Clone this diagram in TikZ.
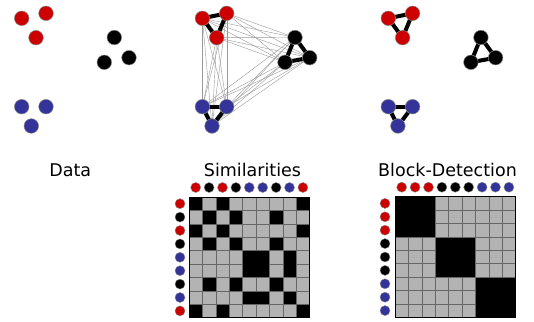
\documentclass[tikz,border=0pt]{standalone}
\usepackage{fontspec}
\setmainfont{DejaVu Sans}
\usepackage{xcolor}
\usepackage{tikz}
\usetikzlibrary{positioning, backgrounds}

\definecolor{c1}{HTML}{CC0000}
\definecolor{c2}{HTML}{000000}
\definecolor{c3}{HTML}{333399}
\definecolor{cellgray}{HTML}{B3B3B3}

\begin{document}
\begin{tikzpicture}[
        x=1pt, y=-1pt,
        dot/.style={circle, draw=black!45, line width=0.5pt, inner sep=0pt, minimum size=14.6pt},
        mdot/.style={circle, draw=black!45, line width=0.4pt, inner sep=0pt, minimum size=10pt},
        strong/.style={line width=4pt},
        weak/.style={line width=0.4pt, black!40},
        cell/.style={draw=black!60, line width=0.5pt},
        title/.style={anchor=base, font=\fontsize{17.5}{20}\selectfont}
    ]
    \useasboundingbox (0,0) rectangle (534,321);

    % Points, once per panel
    \foreach \pn/\dx in {d/0, s/180.7, b/366.6} {
        \node[dot, fill=c1] (\pn-r1) at (21.7+\dx,18.3) {};
        \node[dot, fill=c1] (\pn-r2) at (46+\dx,13.3) {};
        \node[dot, fill=c1] (\pn-r3) at (36+\dx,37.7) {};
        \node[dot, fill=c2] (\pn-k1) at (114.3+\dx,37.5) {};
        \node[dot, fill=c2] (\pn-k2) at (129+\dx,57.7) {};
        \node[dot, fill=c2] (\pn-k3) at (104.3+\dx,62.3) {};
        \node[dot, fill=c3] (\pn-b1) at (21.7+\dx,106.7) {};
        \node[dot, fill=c3] (\pn-b2) at (46+\dx,106.7) {};
        \node[dot, fill=c3] (\pn-b3) at (31.3+\dx,126) {};
    }

    \begin{scope}[on background layer]
        % Similarities between groups
        \foreach \u in {r1,r2,r3}
            \foreach \v in {k1,k2,k3,b1,b2,b3}
                \draw[weak] (s-\u.center) -- (s-\v.center);
        \foreach \u in {k1,k2,k3}
            \foreach \v in {b1,b2,b3}
                \draw[weak] (s-\u.center) -- (s-\v.center);
        % Strong links inside groups
        \foreach \pn in {s,b}
            \foreach \g in {r,k,b} {
                \draw[strong] (\pn-\g1.center) -- (\pn-\g2.center);
                \draw[strong] (\pn-\g2.center) -- (\pn-\g3.center);
                \draw[strong] (\pn-\g3.center) -- (\pn-\g1.center);
            }
    \end{scope}

    % Labels
    \node[title] (data) at (70.3,176) {Data};
    \node[title] (simil) at (252.5,176) {Similarities};
    \node[title] (block) at (447.5,176) {Block-Detection};

    % Similarity matrix
    \begin{scope}[shift={(189,197)}]
        \fill (0,0) rectangle (120.6,120.6);
        \foreach [count=\i] \a in {1,2,1,2,3,3,2,3,1} {
            \node[mdot, fill=c\a] (st\i) at (13.4*\i-6.7,-9.5) {};
            \node[mdot, fill=c\a] (sl\i) at (-9,13.4*\i-6.7) {};
            \foreach [count=\j] \c in {1,2,1,2,3,3,2,3,1} {
                \ifnum\a=\c \else
                    \filldraw[cell, fill=cellgray] (13.4*\j-13.4,13.4*\i-13.4) rectangle +(13.4,13.4);
                \fi
            }
        }
        \draw[line width=1pt] (0,0) rectangle (120.6,120.6);
    \end{scope}

    % Block matrix
    \begin{scope}[shift={(395,196.7)}]
        \fill (0,0) rectangle (120.6,120.6);
        \foreach [count=\i] \a in {1,1,1,2,2,2,3,3,3} {
            \node[mdot, fill=c\a] (bt\i) at (13.4*\i-6.7,-9.5) {};
            \node[mdot, fill=c\a] (bl\i) at (-10,13.4*\i-6.7) {};
            \foreach [count=\j] \c in {1,1,1,2,2,2,3,3,3} {
                \ifnum\a=\c \else
                    \filldraw[cell, fill=cellgray] (13.4*\j-13.4,13.4*\i-13.4) rectangle +(13.4,13.4);
                \fi
            }
        }
        \draw[line width=1pt] (0,0) rectangle (120.6,120.6);
    \end{scope}

\end{tikzpicture}
\end{document}
